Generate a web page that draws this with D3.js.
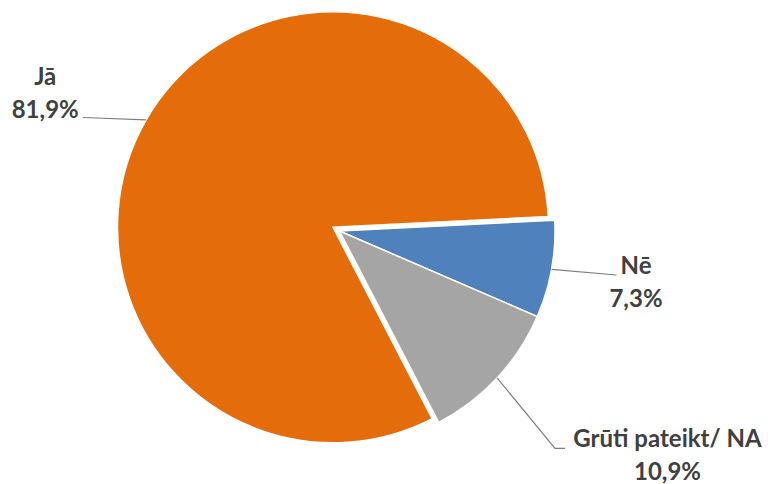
<!DOCTYPE html>
<html><head><meta charset="utf-8">
<script src="https://cdn.jsdelivr.net/npm/d3@7"></script>
<style>body{margin:0;background:#fff}svg{display:block}</style>
</head><body><svg id="c" width="768" height="484"></svg>
<script>
// ---- data ----
const categories = ["Jā", "Nē", "Grūti pateikt/ NA"];
const values = [81.9, 7.3, 10.9];
const valueLabels = ["81,9%", "7,3%", "10,9%"];

// ---- styling / layout ----
const colors = ["#E46C0A", "#4F81BD", "#A5A5A5"];
const explode = [7.5, 0, 0];
const cx = 339.5, cy = 231, R = 215.5;
const startDeg = 152.6;
// label anchors (relative to pie centre): text centre x, first baseline y, leader end points
const labelLayout = [
  { tx: -294.3, ty: -146, leader: [[-256.5, -113.5]] },
  { tx: 296.5, ty: 43, leader: [[277, 44]] },
  { tx: 328, ty: 216.3, leader: [[215.5, 217.3], [225.5, 217.3]] }
];
const lineGap = 33;

const svg = d3.select("#c");
const g = svg.append("g").attr("transform", `translate(${cx},${cy})`);

const start = startDeg * Math.PI / 180;
const pie = d3.pie().sort(null).value(d => d.v)
  .startAngle(start).endAngle(start + 2 * Math.PI);
const data = categories.map((c, i) => ({ c, v: values[i], lbl: valueLabels[i], i }));
const arcs = pie(data);
const arc = d3.arc().innerRadius(0).outerRadius(R);
const edge = d3.arc().innerRadius(R).outerRadius(R);

function offset(d) {
  const a = (d.startAngle + d.endAngle) / 2;
  const e = explode[d.data.i];
  return [Math.sin(a) * e, -Math.cos(a) * e];
}

g.selectAll("path.slice").data(arcs).join("path")
  .attr("class", "slice")
  .attr("d", arc)
  .attr("transform", d => { const o = offset(d); return `translate(${o[0]},${o[1]})`; })
  .attr("fill", d => colors[d.data.i])
  .attr("stroke", "#fff")
  .attr("stroke-width", 1.5)
  .attr("stroke-linejoin", "miter");

// leader lines
g.selectAll("polyline.leader").data(arcs).join("polyline")
  .attr("class", "leader")
  .attr("points", d => {
    const o = offset(d);
    const c = edge.centroid(d);
    const pts = [[c[0] + o[0], c[1] + o[1]], ...labelLayout[d.data.i].leader];
    return pts.map(p => p.join(",")).join(" ");
  })
  .attr("fill", "none")
  .attr("stroke", "#7F7F7F")
  .attr("stroke-width", 1.2);

// labels
const lab = g.selectAll("g.lab").data(arcs).join("g").attr("class", "lab");
lab.append("text")
  .attr("x", d => labelLayout[d.data.i].tx)
  .attr("y", d => labelLayout[d.data.i].ty)
  .text(d => d.data.c);
lab.append("text")
  .attr("x", d => labelLayout[d.data.i].tx)
  .attr("y", d => labelLayout[d.data.i].ty + lineGap)
  .text(d => d.data.lbl);
lab.selectAll("text")
  .attr("text-anchor", "middle")
  .attr("font-family", "Lato, 'Open Sans', sans-serif")
  .attr("font-weight", "bold")
  .attr("font-size", 24)
  .attr("fill", "#404040");
</script></body></html>
